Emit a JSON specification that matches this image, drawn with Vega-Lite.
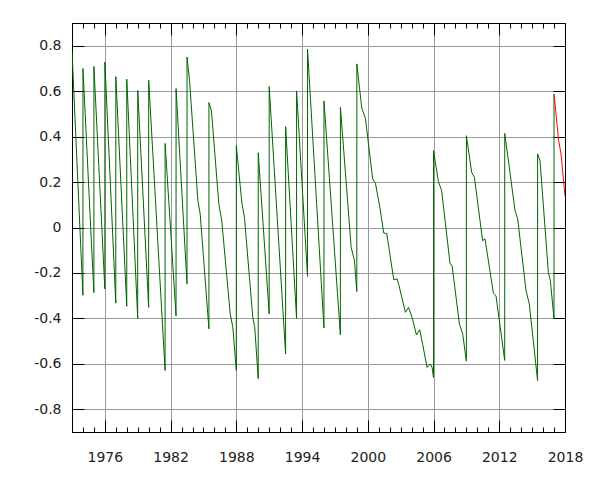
{
  "$schema": "https://vega.github.io/schema/vega-lite/v6.json",
  "width": 493,
  "height": 409,
  "autosize": "none",
  "padding": {"left": 72, "top": 23, "right": 35, "bottom": 48},
  "datasets": {
    "observed": [
      {"year": 1973.0, "dut1": 0.775}, {"year": 1973.997, "dut1": -0.298},
      {"year": 1974.0, "dut1": 0.70}, {"year": 1974.997, "dut1": -0.287},
      {"year": 1975.0, "dut1": 0.709}, {"year": 1975.997, "dut1": -0.27},
      {"year": 1976.0, "dut1": 0.728}, {"year": 1976.997, "dut1": -0.333},
      {"year": 1977.0, "dut1": 0.664}, {"year": 1977.997, "dut1": -0.347},
      {"year": 1978.0, "dut1": 0.653}, {"year": 1978.997, "dut1": -0.40},
      {"year": 1979.0, "dut1": 0.603}, {"year": 1979.997, "dut1": -0.352},
      {"year": 1980.0, "dut1": 0.648}, {"year": 1981.497, "dut1": -0.629},
      {"year": 1981.5, "dut1": 0.370}, {"year": 1982.497, "dut1": -0.389},
      {"year": 1982.5, "dut1": 0.611}, {"year": 1983.497, "dut1": -0.248},
      {"year": 1983.5, "dut1": 0.750}, {"year": 1983.73, "dut1": 0.646},
      {"year": 1984.49, "dut1": 0.118}, {"year": 1984.70, "dut1": 0.06},
      {"year": 1985.497, "dut1": -0.446},
      {"year": 1985.5, "dut1": 0.55}, {"year": 1985.73, "dut1": 0.514},
      {"year": 1986.40, "dut1": 0.104}, {"year": 1986.67, "dut1": 0.03},
      {"year": 1987.44, "dut1": -0.38}, {"year": 1987.68, "dut1": -0.439},
      {"year": 1987.997, "dut1": -0.629},
      {"year": 1988.0, "dut1": 0.36}, {"year": 1988.5, "dut1": 0.111},
      {"year": 1988.74, "dut1": 0.045}, {"year": 1989.50, "dut1": -0.395},
      {"year": 1989.68, "dut1": -0.439}, {"year": 1989.997, "dut1": -0.665},
      {"year": 1990.0, "dut1": 0.329}, {"year": 1990.997, "dut1": -0.380},
      {"year": 1991.0, "dut1": 0.620}, {"year": 1992.497, "dut1": -0.557},
      {"year": 1992.5, "dut1": 0.444}, {"year": 1993.497, "dut1": -0.40},
      {"year": 1993.5, "dut1": 0.601}, {"year": 1994.497, "dut1": -0.215},
      {"year": 1994.5, "dut1": 0.785}, {"year": 1995.997, "dut1": -0.442},
      {"year": 1996.0, "dut1": 0.557}, {"year": 1997.497, "dut1": -0.472},
      {"year": 1997.5, "dut1": 0.529}, {"year": 1998.48, "dut1": -0.087},
      {"year": 1998.78, "dut1": -0.145}, {"year": 1998.997, "dut1": -0.282},
      {"year": 1999.0, "dut1": 0.72}, {"year": 1999.45, "dut1": 0.525},
      {"year": 1999.78, "dut1": 0.481}, {"year": 2000.45, "dut1": 0.213},
      {"year": 2000.70, "dut1": 0.194}, {"year": 2001.12, "dut1": 0.083},
      {"year": 2001.45, "dut1": -0.024}, {"year": 2001.73, "dut1": -0.027},
      {"year": 2002.37, "dut1": -0.23}, {"year": 2002.68, "dut1": -0.226},
      {"year": 2002.82, "dut1": -0.25}, {"year": 2003.43, "dut1": -0.373},
      {"year": 2003.71, "dut1": -0.351}, {"year": 2004.04, "dut1": -0.395},
      {"year": 2004.44, "dut1": -0.473}, {"year": 2004.74, "dut1": -0.45},
      {"year": 2005.01, "dut1": -0.515}, {"year": 2005.41, "dut1": -0.616},
      {"year": 2005.71, "dut1": -0.601}, {"year": 2005.87, "dut1": -0.616},
      {"year": 2005.997, "dut1": -0.66},
      {"year": 2006.0, "dut1": 0.338}, {"year": 2006.44, "dut1": 0.203},
      {"year": 2006.74, "dut1": 0.162}, {"year": 2007.51, "dut1": -0.16},
      {"year": 2007.69, "dut1": -0.167}, {"year": 2008.36, "dut1": -0.424},
      {"year": 2008.66, "dut1": -0.468}, {"year": 2008.997, "dut1": -0.588},
      {"year": 2009.0, "dut1": 0.404}, {"year": 2009.48, "dut1": 0.243},
      {"year": 2009.73, "dut1": 0.221}, {"year": 2010.48, "dut1": -0.058},
      {"year": 2010.70, "dut1": -0.05}, {"year": 2011.46, "dut1": -0.289},
      {"year": 2011.70, "dut1": -0.30}, {"year": 2012.497, "dut1": -0.585},
      {"year": 2012.5, "dut1": 0.414}, {"year": 2013.44, "dut1": 0.074},
      {"year": 2013.68, "dut1": 0.038}, {"year": 2014.44, "dut1": -0.277},
      {"year": 2014.74, "dut1": -0.336}, {"year": 2015.497, "dut1": -0.673},
      {"year": 2015.5, "dut1": 0.324}, {"year": 2015.72, "dut1": 0.294},
      {"year": 2016.48, "dut1": -0.197}, {"year": 2016.66, "dut1": -0.233},
      {"year": 2016.997, "dut1": -0.402}, {"year": 2017.0, "dut1": 0.587}
    ],
    "predicted": [
      {"year": 2017.0, "dut1": 0.587}, {"year": 2017.42, "dut1": 0.382},
      {"year": 2017.64, "dut1": 0.323}, {"year": 2018.0, "dut1": 0.14}
    ]
  },
  "layer": [
    {
      "data": {"name": "observed"},
      "mark": {"type": "line", "color": "#006400", "strokeWidth": 1, "clip": true},
      "encoding": {
        "x": {"field": "year", "type": "quantitative",
          "scale": {"domain": [1973, 2018], "nice": false, "zero": false},
          "axis": {"orient": "bottom",
            "values": [1974,1975,1976,1977,1978,1979,1980,1981,1982,1983,1984,1985,1986,1987,1988,1989,1990,1991,1992,1993,1994,1995,1996,1997,1998,1999,2000,2001,2002,2003,2004,2005,2006,2007,2008,2009,2010,2011,2012,2013,2014,2015,2016,2017,2018],
            "labelExpr": "(datum.value - 1976) % 6 === 0 ? format(datum.value, 'd') : ''",
            "grid": true, "gridColor": "#999999",
            "gridOpacity": {"condition": {"test": "(datum.value - 1976) % 6 === 0", "value": 1}, "value": 0},
            "ticks": true,
            "tickSize": {"condition": {"test": "(datum.value - 1976) % 6 === 0", "value": -12}, "value": -5},
            "tickColor": "#000000", "tickWidth": 1, "domainColor": "black",
            "labelPadding": 30, "labelFlush": false, "labelOverlap": false, "labelBound": false,
            "labelFont": "DejaVu Sans", "labelFontSize": 14, "labelColor": "#222222", "title": null}},
        "y": {"field": "dut1", "type": "quantitative",
          "scale": {"domain": [-0.9, 0.9], "nice": false, "zero": false},
          "axis": {"orient": "left", "values": [-0.8, -0.6, -0.4, -0.2, 0, 0.2, 0.4, 0.6, 0.8], "grid": true, "gridColor": "#999999", "ticks": true, "tickSize": -12, "tickColor": "#000000", "tickWidth": 1, "domainColor": "black", "labelPadding": 23, "labelFont": "DejaVu Sans", "labelFontSize": 14, "labelColor": "#222222", "title": null,
            "labelExpr": "abs(datum.value) < 1e-9 ? '0' : (datum.value < 0 ? '-' : '') + format(abs(datum.value), '.1f')"}}
      }
    },
    {
      "data": {"name": "predicted"},
      "mark": {"type": "line", "color": "#ff0000", "strokeWidth": 1, "clip": true},
      "encoding": {
        "x": {"field": "year", "type": "quantitative",
          "axis": {"orient": "top",
            "values": [1974,1975,1976,1977,1978,1979,1980,1981,1982,1983,1984,1985,1986,1987,1988,1989,1990,1991,1992,1993,1994,1995,1996,1997,1998,1999,2000,2001,2002,2003,2004,2005,2006,2007,2008,2009,2010,2011,2012,2013,2014,2015,2016,2017,2018],
            "labels": false, "grid": false, "ticks": true,
            "tickSize": {"condition": {"test": "(datum.value - 1976) % 6 === 0", "value": -12}, "value": -5},
            "tickColor": "#000000", "tickWidth": 1, "domainColor": "black", "title": null}},
        "y": {"field": "dut1", "type": "quantitative",
          "axis": {"orient": "right", "values": [-0.8, -0.6, -0.4, -0.2, 0, 0.2, 0.4, 0.6, 0.8], "labels": false, "grid": false, "ticks": true, "tickSize": -12, "tickColor": "#000000", "tickWidth": 1, "domainColor": "black", "title": null}}
      }
    }
  ],
  "resolve": {"axis": {"x": "independent", "y": "independent"}},
  "config": {
    "view": {"stroke": "black", "strokeWidth": 1}
  }
}
